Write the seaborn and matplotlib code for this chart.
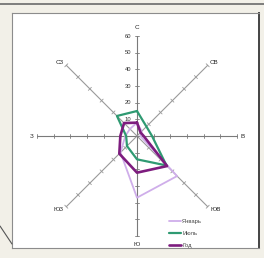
import numpy as np
import pandas as pd
import matplotlib
matplotlib.use("Agg")
import matplotlib.pyplot as plt
import seaborn as sns

# ---- data ----
directions = ["С", "СВ", "В", "ЮВ", "Ю", "ЮЗ", "З", "СЗ"]
angles_deg = [90, 45, 0, -45, -90, -135, 180, 135]
tick_values = [10, 20, 30, 40, 50, 60]
series_names = ["Январь", "Июль", "Год"]
jan = [8, 4, 2, 34, 37, 14, 7, 6]
jul = [15, 8, 9, 25, 14, 8.5, 6.5, 17]
year = [8, 3, 4, 25.5, 22, 15, 10, 11]
colors = ["#cfaeea", "#2f9a72", "#7d1c7e"]
widths = [1.3, 1.6, 1.9]

sns.set_style("white")
plt.rcParams["font.family"] = ["Liberation Sans", "DejaVu Sans"]

W, H = 264, 258
fig = plt.figure(figsize=(W / 100, H / 100), dpi=100)
fig.patch.set_facecolor("#f2f0e8")

# window edge decoration
fig.add_artist(plt.Line2D([0, 1], [1 - 4 / H, 1 - 4 / H], color="#6a6a6a", lw=1.2))
fig.add_artist(plt.Line2D([0, 12 / W], [1 - 226 / H, 1 - 244 / H], color="#555555", lw=0.8))

left, right, top, bottom = 12, 259, 13, 248
ax = fig.add_axes([left / W, 1 - bottom / H, (right - left) / W, (bottom - top) / H])
ax.set_facecolor("white")
for s in ax.spines.values():
    s.set_visible(True)
    s.set_color("#8c8c8c")
    s.set_linewidth(0.8)
ax.spines["right"].set_color("#444444")
ax.spines["right"].set_linewidth(1.4)

scale = 100 / 60.0  # px per unit
cx, cy = 137, 136
ax.set_xlim((left - cx) / scale, (right - cx) / scale)
ax.set_ylim(-(bottom - cy) / scale, (cy - top) / scale)
ax.set_xticks([])
ax.set_yticks([])

rad = np.deg2rad(angles_deg)
rmax = tick_values[-1]

# axes spokes with tick marks
for a, name in zip(rad, directions):
    ux, uy = np.cos(a), np.sin(a)
    ortho = (abs(ux) < 1e-6) or (abs(uy) < 1e-6)
    col = "#7a7a7a" if ortho else "#9a9a9a"
    ax.plot([0, rmax * ux], [0, rmax * uy], color=col, lw=0.8, zorder=1)
    px, py = -uy, ux
    tl = 1.3
    for t in tick_values:
        ax.plot([t * ux - tl * px, t * ux + tl * px],
                [t * uy - tl * py, t * uy + tl * py], color=col, lw=0.6, zorder=1)
    lr = 65
    ha = "center"
    if ux > 0.3:
        ha = "left"; lr = 62
    elif ux < -0.3:
        ha = "right"; lr = 62
    ax.text(lr * ux, lr * uy, name, ha=ha, va="center", fontsize=4.5, color="#222222")

for t in tick_values:
    ax.text(-3.5, t, str(t), ha="right", va="center", fontsize=4.2, color="#333333")

# series polygons
for name, vals, c, w in zip(series_names, [jan, jul, year], colors, widths):
    v = np.array(vals + vals[:1], dtype=float)
    aa = np.concatenate([rad, rad[:1]])
    df = pd.DataFrame({"x": v * np.cos(aa), "y": v * np.sin(aa),
                       "order": np.arange(len(v)), "series": name})
    sns.lineplot(data=df, x="x", y="y", sort=False, estimator=None,
                 color=c, lw=w, ax=ax, label=name, zorder=3)

ax.set_xlabel("")
ax.set_ylabel("")
leg = ax.legend(loc="upper left", bbox_to_anchor=(0.625, 0.135), frameon=False,
                fontsize=4.2, handlelength=2.0, labelspacing=1.15, borderpad=0,
                handletextpad=0.2)
for t in leg.get_texts():
    t.set_color("#444444")

fig.savefig("out.png", dpi=100, facecolor=fig.get_facecolor())
